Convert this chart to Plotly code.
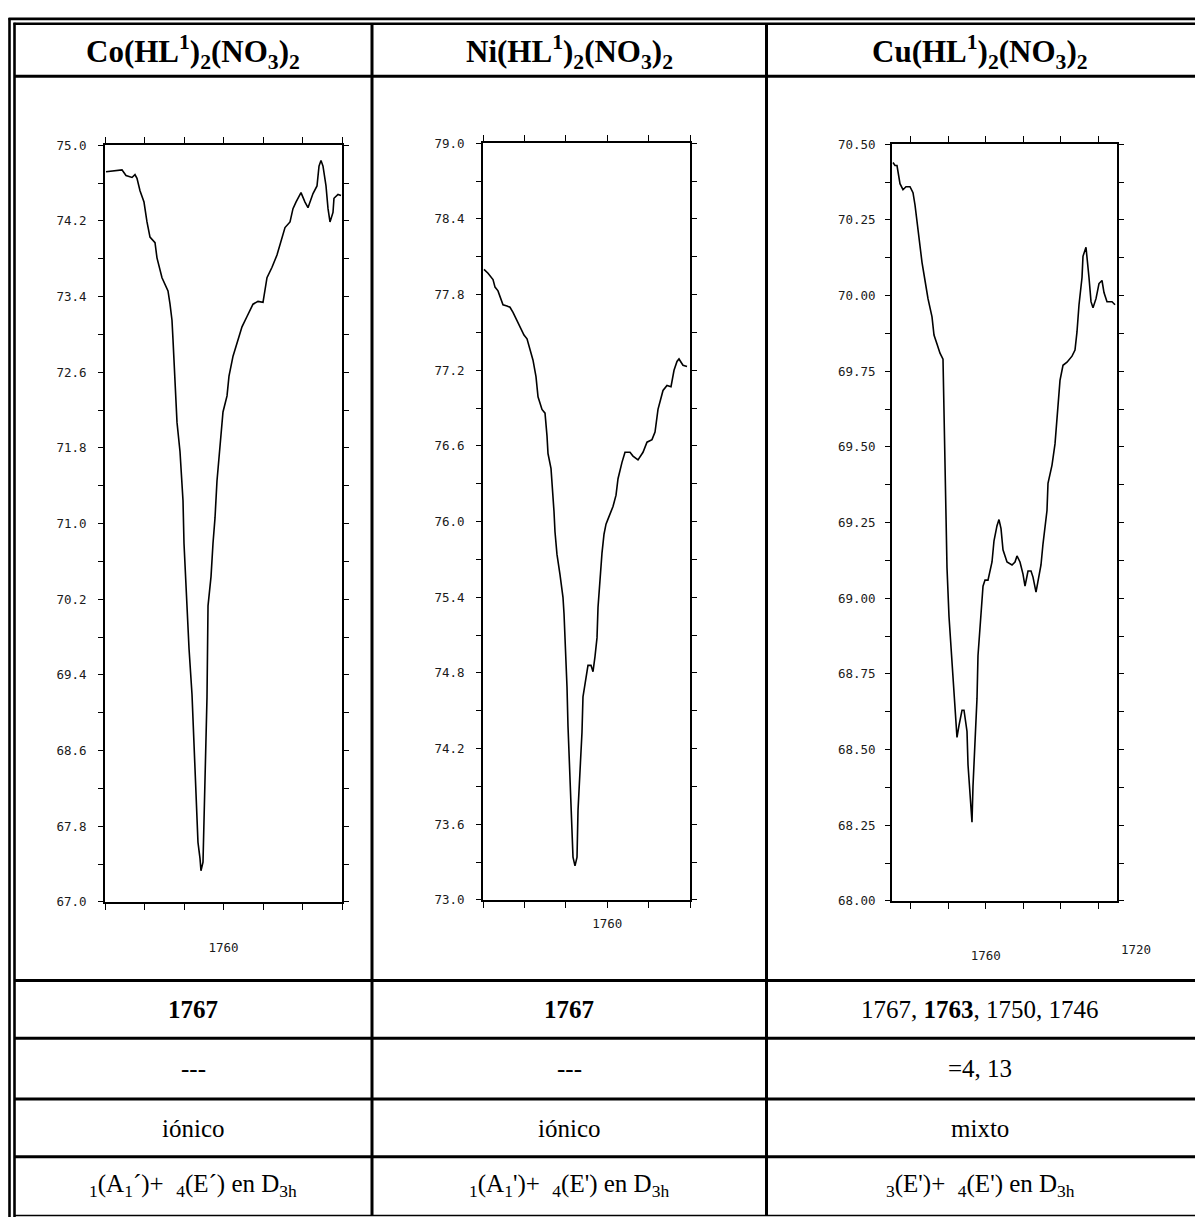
import plotly.graph_objects as go

W, H = 1195, 1224

# ---------------- data ----------------
co_wavenumber = [1789.75, 1786.71, 1785.70, 1784.68, 1783.16, 1782.41, 1781.90, 1781.14, 1780.13, 1779.37,
                 1778.61, 1777.34, 1776.84, 1775.57, 1774.05, 1773.54, 1773.04, 1772.78, 1772.28, 1771.77,
                 1771.01, 1770.51, 1770.25, 1770.00, 1769.49, 1768.73, 1767.97, 1767.47, 1766.96, 1766.46,
                 1765.95, 1765.70, 1765.19, 1764.94, 1764.43, 1764.18, 1763.92, 1763.16, 1762.66, 1762.15,
                 1761.65, 1760.89, 1760.13, 1759.11, 1758.61, 1757.59, 1756.58, 1755.32, 1754.05, 1752.53,
                 1751.27, 1750.00, 1748.99, 1747.72, 1746.46, 1745.19, 1744.43, 1743.16, 1742.41, 1741.65,
                 1740.38, 1739.37, 1738.61, 1737.34, 1736.33, 1735.82, 1735.32, 1734.81, 1734.05, 1733.54,
                 1733.04, 1732.28, 1732.03, 1731.01, 1730.25]
co_transmittance = [74.72, 74.73, 74.74, 74.68, 74.66, 74.69, 74.65, 74.52, 74.40, 74.19,
                    74.03, 73.97, 73.81, 73.60, 73.46, 73.32, 73.15, 72.94, 72.56, 72.07,
                    71.76, 71.48, 71.24, 70.79, 70.27, 69.68, 69.19, 68.71, 68.25, 67.63,
                    67.46, 67.33, 67.42, 67.91, 68.81, 69.16, 70.13, 70.44, 70.79, 71.06,
                    71.45, 71.79, 72.18, 72.35, 72.56, 72.77, 72.91, 73.08, 73.19, 73.32,
                    73.35, 73.34, 73.60, 73.71, 73.84, 74.02, 74.13, 74.19, 74.33, 74.40,
                    74.50, 74.40, 74.34, 74.49, 74.57, 74.78, 74.84, 74.78, 74.57, 74.33,
                    74.19, 74.29, 74.44, 74.48, 74.47]

ni_wavenumber = [1789.76, 1788.79, 1787.58, 1787.10, 1786.38, 1785.89, 1785.17, 1784.20, 1783.48, 1782.75,
                 1781.79, 1781.06, 1780.10, 1779.37, 1778.89, 1777.92, 1777.20, 1776.71, 1775.75, 1775.02,
                 1774.54, 1774.30, 1773.57, 1773.09, 1772.85, 1772.61, 1772.13, 1771.40, 1770.68, 1770.43,
                 1769.95, 1769.71, 1769.47, 1768.99, 1768.74, 1768.50, 1768.26, 1767.78, 1767.29, 1767.05,
                 1766.57, 1766.09, 1765.85, 1765.12, 1764.64, 1763.91, 1763.43, 1762.95, 1762.46, 1762.22,
                 1761.74, 1761.26, 1760.77, 1760.29, 1759.81, 1759.08, 1758.60, 1757.87, 1757.39, 1756.43,
                 1755.70, 1754.49, 1753.77, 1752.56, 1751.35, 1750.39, 1749.18, 1748.45, 1747.73, 1746.52,
                 1745.56, 1744.59, 1743.86, 1743.14, 1742.66, 1741.69, 1740.72]
ni_transmittance = [78.00, 77.97, 77.92, 77.86, 77.83, 77.78, 77.72, 77.71, 77.70, 77.66,
                    77.59, 77.54, 77.48, 77.45, 77.39, 77.28, 77.15, 76.99, 76.89, 76.86,
                    76.68, 76.54, 76.42, 76.21, 76.08, 75.92, 75.74, 75.58, 75.40, 75.27,
                    74.96, 74.69, 74.38, 73.91, 73.71, 73.44, 73.34, 73.27, 73.34, 73.71,
                    74.02, 74.33, 74.61, 74.76, 74.86, 74.86, 74.81, 74.93, 75.08, 75.32,
                    75.58, 75.75, 75.90, 75.98, 76.02, 76.08, 76.12, 76.21, 76.34, 76.47,
                    76.55, 76.55, 76.52, 76.49, 76.55, 76.63, 76.65, 76.71, 76.89, 77.04,
                    77.08, 77.07, 77.20, 77.27, 77.29, 77.24, 77.23]

cu_wavenumber = [1784.73, 1784.20, 1783.67, 1783.40, 1782.87, 1782.07, 1781.27, 1780.20, 1779.40, 1778.87,
                 1778.33, 1777.80, 1777.00, 1776.20, 1775.40, 1774.33, 1773.80, 1773.00, 1772.20, 1771.40,
                 1771.25, 1771.10, 1770.90, 1770.75, 1770.60, 1770.33, 1769.80, 1769.00, 1768.47, 1767.93,
                 1767.67, 1767.13, 1766.33, 1765.80, 1765.00, 1764.73, 1764.20, 1763.67, 1763.40, 1762.87,
                 1762.33, 1762.07, 1761.27, 1760.73, 1760.20, 1759.40, 1758.33, 1757.80, 1757.00, 1756.47,
                 1755.93, 1755.40, 1754.33, 1753.00, 1752.20, 1751.67, 1750.87, 1750.07, 1749.53, 1748.73,
                 1747.93, 1747.40, 1746.60, 1746.07, 1745.27, 1744.73, 1744.20, 1743.67, 1743.40, 1742.33,
                 1741.53, 1740.73, 1740.20, 1739.40, 1738.33, 1737.00, 1736.20, 1735.67, 1735.13, 1734.33,
                 1734.07, 1733.27, 1733.00, 1732.47, 1731.93, 1731.40, 1730.60, 1729.80, 1729.00, 1728.47,
                 1727.67, 1726.33, 1725.53]
cu_transmittance = [70.44, 70.43, 70.43, 70.41, 70.37, 70.35, 70.36, 70.36, 70.34, 70.30,
                    70.24, 70.19, 70.11, 70.05, 69.99, 69.93, 69.87, 69.84, 69.81, 69.79,
                    69.68, 69.54, 69.43, 69.32, 69.25, 69.10, 68.94, 68.79, 68.69, 68.58,
                    68.54, 68.58, 68.63, 68.63, 68.56, 68.45, 68.35, 68.26, 68.38, 68.51,
                    68.67, 68.81, 68.97, 69.04, 69.06, 69.06, 69.12, 69.19, 69.24, 69.26,
                    69.23, 69.16, 69.12, 69.11, 69.12, 69.14, 69.12, 69.08, 69.04, 69.09,
                    69.09, 69.07, 69.02, 69.06, 69.11, 69.18, 69.23, 69.29, 69.38, 69.44,
                    69.51, 69.62, 69.72, 69.77, 69.78, 69.80, 69.82, 69.88, 69.97, 70.06,
                    70.13, 70.16, 70.13, 70.06, 69.98, 69.96, 69.99, 70.04, 70.05, 70.01,
                    69.98, 69.98, 69.97]

# tick values / labels of the three spectra
co_yticks = [67.0, 67.8, 68.6, 69.4, 70.2, 71.0, 71.8, 72.6, 73.4, 74.2, 75.0]
ni_yticks = [73.0, 73.6, 74.2, 74.8, 75.4, 76.0, 76.6, 77.2, 77.8, 78.4, 79.0]
cu_yticks = [68.00, 68.25, 68.50, 68.75, 69.00, 69.25, 69.50, 69.75, 70.00, 70.25, 70.50]
co_xticks = [1790, 1780, 1770, 1760, 1750, 1740, 1730]
co_xlabels = ["", "", "", "1760", "", "", ""]
ni_xticks = [1790, 1780, 1770, 1760, 1750, 1740]
ni_xlabels = ["", "", "", "1760", "", ""]
cu_xticks = [1780, 1770, 1760, 1750, 1740, 1730]
cu_xlabels = ["", "", "1760", "", "", ""]
cu_extra_xlabel = 1720

# table text
headers = ["Co(HL<sup>1</sup>)<sub>2</sub>(NO<sub>3</sub>)<sub>2</sub>",
           "Ni(HL<sup>1</sup>)<sub>2</sub>(NO<sub>3</sub>)<sub>2</sub>",
           "Cu(HL<sup>1</sup>)<sub>2</sub>(NO<sub>3</sub>)<sub>2</sub>"]
row_freq = ["<b>1767</b>", "<b>1767</b>", "1767, <b>1763</b>, 1750, 1746"]
row_delta = ["---", "---", "=4, 13"]
row_kind = ["iónico", "iónico", "mixto"]
row_modes = ["<sub>1</sub>(A<sub>1</sub>´)+  <sub>4</sub>(E´) en D<sub>3h</sub>",
             "<sub>1</sub>(A<sub>1</sub>')+  <sub>4</sub>(E') en D<sub>3h</sub>",
             "<sub>3</sub>(E')+  <sub>4</sub>(E') en D<sub>3h</sub>"]

# ---------------- layout helpers ----------------
def px(x):
    return x / W

def py(y):
    return 1 - y / H

SERIF = "Liberation Serif, Times New Roman, serif"
MONO = "DejaVu Sans Mono, Liberation Mono, monospace"
TICKFONT = dict(family=MONO, size=12.5, color="#1a1a1a")

fig = go.Figure()

panels = [
    dict(x=co_wavenumber, y=co_transmittance, xd=(105, 342), yd=(139, 905),
         xr=[1790, 1730], yr=[67.0, 75.0], yt=co_yticks, fmt=".1f",
         xt=co_xticks, xl=co_xlabels, xstand=27, ystand=9),
    dict(x=ni_wavenumber, y=ni_transmittance, xd=(483, 690), yd=(137, 903),
         xr=[1790, 1740], yr=[73.0, 79.0], yt=ni_yticks, fmt=".1f",
         xt=ni_xticks, xl=ni_xlabels, xstand=5, ystand=9),
    dict(x=cu_wavenumber, y=cu_transmittance, xd=(892, 1117), yd=(138, 904),
         xr=[1785, 1725], yr=[68.0, 70.5], yt=cu_yticks, fmt=".2f",
         xt=cu_xticks, xl=cu_xlabels, xstand=36, ystand=7),
]

for i, p in enumerate(panels, start=1):
    xa = "x" if i == 1 else f"x{i}"
    ya = "y" if i == 1 else f"y{i}"
    fig.add_trace(go.Scatter(x=p["x"], y=p["y"], mode="lines",
                             line=dict(color="black", width=1.6),
                             xaxis=xa, yaxis=ya, showlegend=False, hoverinfo="skip"))
    minor_y = [(a + b) / 2 for a, b in zip(p["yt"][:-1], p["yt"][1:])]
    xkey = "xaxis" if i == 1 else f"xaxis{i}"
    ykey = "yaxis" if i == 1 else f"yaxis{i}"
    fig.layout[xkey] = dict(
        domain=[px(p["xd"][0]), px(p["xd"][1])], range=p["xr"], anchor=ya,
        tickmode="array", tickvals=p["xt"], ticktext=p["xl"],
        ticks="outside", ticklen=6, tickwidth=1.3, tickcolor="black",
        showline=True, linecolor="black", linewidth=1.7, mirror="ticks",
        showgrid=False, zeroline=False, ticklabelstandoff=p["xstand"],
        tickfont=TICKFONT)
    fig.layout[ykey] = dict(
        domain=[py(p["yd"][1]), py(p["yd"][0])], range=p["yr"], anchor=xa,
        tickmode="array", tickvals=p["yt"], tickformat=p["fmt"],
        ticks="outside", ticklen=5, tickwidth=1.3, tickcolor="black",
        minor=dict(tickmode="array", tickvals=minor_y, ticks="outside",
                   ticklen=5, tickwidth=1.3, tickcolor="black"),
        showline=True, linecolor="black", linewidth=1.7, mirror="ticks",
        showgrid=False, zeroline=False, ticklabelstandoff=p["ystand"],
        tickfont=TICKFONT)

# label lying beyond the end of the Cu axis (placed through the axis domain)
cu_lo, cu_hi = panels[2]["xr"]
fig.add_annotation(x=(cu_lo - cu_extra_xlabel) / (cu_lo - cu_hi), xref="x3 domain",
                   y=py(953), yref="paper",
                   text=str(cu_extra_xlabel), showarrow=False, font=TICKFONT,
                   xanchor="center", yanchor="middle")

# ---------------- table frame ----------------
shapes = []
def hline(y, x0, x1, w):
    shapes.append(dict(type="line", xref="paper", yref="paper",
                       x0=px(x0), x1=px(x1), y0=py(y), y1=py(y),
                       line=dict(color="black", width=w)))
def vline(x, y0, y1, w):
    shapes.append(dict(type="line", xref="paper", yref="paper",
                       x0=px(x), x1=px(x), y0=py(y0), y1=py(y1),
                       line=dict(color="black", width=w)))

hline(11, 8.5, W, 2.6)
hline(16, 13.5, W, 2.6)
vline(9.5, 10, H, 2.6)
vline(14.5, 15, H, 2.6)
for yy in [69, 984.5, 1043, 1104.5, 1163]:
    hline(yy, 14.5, W, 3)
hline(1222.5, 14.5, W, 1.6)
for xx in [372, 766.5]:
    vline(xx, 16, 1222.5, 3)
fig.update_layout(shapes=shapes)

# ---------------- table text ----------------
col_centers = [193, 569, 980]
rows = [(headers, 45, 31, True), (row_freq, 1014, 25, False), (row_delta, 1074, 25, False),
        (row_kind, 1134, 25, False), (row_modes, 1192, 25, False)]
for texts, yc, size, bold in rows:
    for xc, t in zip(col_centers, texts):
        fig.add_annotation(x=px(xc), y=py(yc), xref="paper", yref="paper",
                           text=f"<b>{t}</b>" if bold else t, showarrow=False,
                           xanchor="center", yanchor="middle",
                           font=dict(family=SERIF, size=size, color="black"))

fig.update_layout(width=W, height=H, margin=dict(l=0, r=0, t=0, b=0),
                  paper_bgcolor="white", plot_bgcolor="white")

fig.write_html("out.html")
